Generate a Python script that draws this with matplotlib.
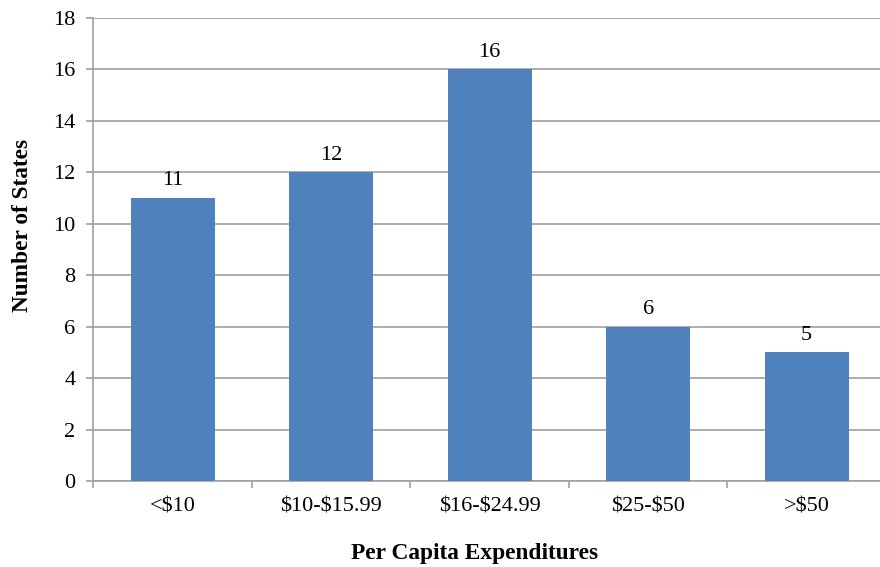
"""
Number of states by per capita expenditures.
"""
import matplotlib
matplotlib.use("Agg")
import matplotlib.pyplot as plt
import numpy as np

# Data
categories = ["<$10", "$10-$15.99", "$16-$24.99", "$25-$50", ">$50"]
states = [11, 12, 16, 6, 5]
y_ticks = [0, 2, 4, 6, 8, 10, 12, 14, 16, 18]

plt.rcParams['font.family'] = ['Liberation Serif', 'DejaVu Serif']
plt.rcParams['text.parse_math'] = False

fig = plt.figure(figsize=(8.8, 5.67), dpi=100)
ax = fig.add_axes([0.1062, 0.1517, 0.9006, 0.8166])

grey = "#A0A0A0"
x = np.arange(len(categories))
bars = ax.bar(x, states, width=0.53, color="#4F81BD", zorder=3)

# value labels over the bars
for xi, v in zip(x, states):
    ax.text(xi, v + 0.3, str(v), ha="center", va="bottom", fontsize=16)

ax.set_xlim(-0.5, len(categories) - 0.5)
ax.set_ylim(0, 18)
ax.set_yticks(y_ticks)
ax.yaxis.grid(True, color=grey, linewidth=1.2, zorder=0)

# category labels between the boundary ticks
ax.set_xticks(np.arange(len(categories) + 1) - 0.5)
ax.set_xticklabels([])
ax.set_xticks(x, minor=True)
ax.set_xticklabels(categories, minor=True)
ax.tick_params(axis="x", which="minor", length=0, pad=12, labelsize=16)
ax.tick_params(axis="x", which="major", length=5, color=grey, width=1.2)
ax.tick_params(axis="y", length=5, color=grey, width=1.2, labelsize=16, pad=8)

for side in ["top", "right"]:
    ax.spines[side].set_visible(False)
for side in ["left", "bottom"]:
    ax.spines[side].set_color(grey)
    ax.spines[side].set_linewidth(1.2)

ax.set_xlabel("Per Capita Expenditures", fontsize=16.8, fontweight="bold")
ax.set_ylabel("Number of States", fontsize=16.8, fontweight="bold")
ax.xaxis.set_label_coords(0.481, -0.133)
ax.yaxis.set_label_coords(-0.076, 0.553)

fig.savefig("out.png", dpi=100)
